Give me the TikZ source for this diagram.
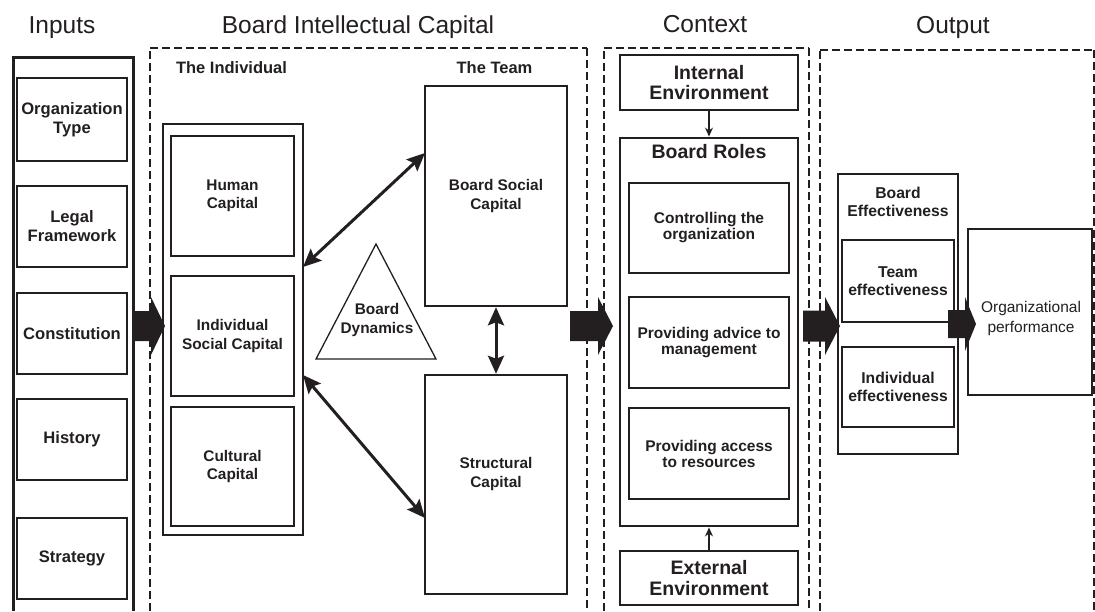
\documentclass[tikz,border=0pt]{standalone}
\usepackage{fontspec}
\setmainfont{Liberation Sans}
\usetikzlibrary{arrows.meta}
\definecolor{ink}{HTML}{231F20}

% solid block arrow: tail x, head-base x, tip x, centre y, half shaft, half head
\newcommand\blockarrow[6]{%
  \fill[ink] (#1,{#4-#5}) -- (#2,{#4-#5}) -- (#2,{#4-#6}) -- (#3,#4)
    -- (#2,{#4+#6}) -- (#2,{#4+#5}) -- (#1,{#4+#5}) -- cycle;}

\begin{document}
\begin{tikzpicture}[x=1pt,y=-1pt,
  title/.style={font=\fontsize{24.5}{28}\selectfont, text=ink, anchor=base},
  heading/.style={font=\bfseries\fontsize{16.5}{19}\selectfont, text=ink, anchor=base},
  box/.style={draw=ink, line width=1.4pt, inner sep=0pt, align=center, text=ink},
  bigbox/.style={box, line width=2.9pt},
  inlbl/.style={font=\bfseries\fontsize{16.6}{19}\selectfont},
  midlbl/.style={font=\bfseries\fontsize{15.4}{18.5}\selectfont},
  envlbl/.style={font=\bfseries\fontsize{19.5}{20.5}\selectfont},
  rolelbl/.style={font=\bfseries\fontsize{15.5}{16}\selectfont},
  outlbl/.style={font=\bfseries\fontsize{15.7}{18.5}\selectfont},
  txt/.style={align=center, text=ink, inner sep=0pt},
  dashtop/.style={draw=ink, line width=2pt, dash pattern=on 7.5pt off 4.5pt},
  dashside/.style={draw=ink, line width=1.1pt, dash pattern=on 8pt off 4pt},
  dbl/.style={draw=ink, line width=3pt,
    {Stealth[length=18pt,width=16pt,inset=3pt]}-{Stealth[length=18pt,width=16pt,inset=3pt]}},
  small/.style={draw=ink, line width=1.1pt, -{Stealth[length=9pt,width=8pt]}}
]
\useasboundingbox (0,0) rectangle (1095,611);

% ---- column titles
\node[title] (tin)  at (62,33)  {Inputs};
\node[title] (tic)  at (358,33) {Board Intellectual Capital};
\node[title] (tctx) at (705,32) {Context};
\node[title] (tout) at (953,33) {Output};

% ---- dashed section frames (open at the bottom)
\draw[dashside] (150,611) -- (150,48);
\draw[dashtop]  (150,48) -- (587,48);
\draw[dashside] (587,48) -- (587,611);
\draw[dashside] (604,611) -- (604,48);
\draw[dashtop]  (604,48) -- (809,48);
\draw[dashside] (809,48) -- (809,611);
\draw[dashside] (820,611) -- (820,50);
\draw[dashtop]  (820,50) -- (1094,50);
\draw[dashside] (1094,50) -- (1094,611);

% ---- inputs
\draw[ink, line width=3pt] (13,611) -- (13,57) -- (133,57) -- (133,611);
\node[box, inlbl, minimum width=110, minimum height=83] (orgtype)  at (72,119.5) {Organization\\Type};
\node[box, inlbl, minimum width=110, minimum height=81] (legal)    at (72,226.5) {Legal\\Framework};
\node[box, inlbl, minimum width=110, minimum height=81] (constit)  at (72,333.5) {Constitution};
\node[box, inlbl, minimum width=110, minimum height=81] (history)  at (72,439.5) {History};
\node[box, inlbl, minimum width=110, minimum height=81] (strategy) at (72,558.5) {Strategy};

% ---- the individual
\node[heading] (hind)  at (231.5,73) {The Individual};
\node[heading] (hteam) at (494.5,73) {The Team};
\node[bigbox, minimum width=140, minimum height=411] (indiv) at (233,329.5) {};
\node[box, midlbl, minimum width=123, minimum height=120] (human)    at (232.5,196)   {Human\\Capital};
\node[box, midlbl, minimum width=123, minimum height=120] (isocial)  at (232.5,336)   {Individual\\Social Capital};
\node[box, midlbl, minimum width=123, minimum height=119] (cultural) at (232.5,466.5) {Cultural\\Capital};

% ---- the team
\node[box, midlbl, line width=2.5pt, minimum width=142, minimum height=220] (bsocial) at (496,196) {Board Social\\Capital};
\node[box, line width=2.5pt, minimum width=142, minimum height=219] (structural) at (496,484.5) {};
\node[txt, midlbl] (structlbl) at (496,474) {Structural\\Capital};

% ---- board dynamics
\coordinate (tl) at (316,359);
\coordinate (tr) at (436,359);
\coordinate (tt) at (376,244);
\draw[ink, line width=1.3pt, line join=miter] (tl) -- (tr) -- (tt) -- cycle;
\node[txt, midlbl] (bdyn) at (377,320) {Board\\Dynamics};

% ---- links between individual and team capital
\coordinate (d1a) at (303,267);
\coordinate (d1b) at (425,153);
\coordinate (d2a) at (303,375);
\coordinate (d2b) at (425,518);
\draw[dbl] (d1a) -- (d1b);
\draw[dbl] (d2a) -- (d2b);
\draw[dbl] (bsocial.south) -- (structural.north);

% ---- context
\node[bigbox, envlbl, minimum width=178, minimum height=55] (intenv) at (709,82.5) {Internal\\Environment};
\node[bigbox, minimum width=178, minimum height=388] (roles) at (709,332) {};
\node[txt, envlbl] (roleslbl) at (709,151.5) {Board Roles};
\node[box, rolelbl, minimum width=160, minimum height=90] (control) at (709,228)   {Controlling the\\organization};
\node[box, rolelbl, minimum width=160, minimum height=91] (advice)  at (709,342.5) {Providing advice to\\management};
\node[box, rolelbl, minimum width=160, minimum height=91] (access)  at (709,453.5) {Providing access\\to resources};
\node[bigbox, envlbl, minimum width=178, minimum height=54] (extenv) at (709,578) {External\\Environment};
\draw[small] (intenv.south) -- (roles.north);
\draw[small] (extenv.north) -- (roles.south);

% ---- output
\node[bigbox, minimum width=120, minimum height=280] (beff) at (898,314) {};
\node[txt, outlbl] (befflbl) at (898,202) {Board\\Effectiveness};
\node[box, outlbl, minimum width=112, minimum height=82] (teff) at (898,281) {Team\\effectiveness};
\node[box, outlbl, minimum width=112, minimum height=80] (ieff) at (898,387) {Individual\\effectiveness};
\node[bigbox, minimum width=124, minimum height=166] (orgperf) at (1030,312) {};
\node[txt, font=\fontsize{15.5}{20}\selectfont] (orgperflbl) at (1031,318) {Organizational\\performance};

% ---- flow arrows between stages
\blockarrow{133}{151}{165}{326}{15}{29}
\blockarrow{570}{598}{613}{326}{15}{29}
\blockarrow{803}{825}{840}{326}{15.5}{29}
\blockarrow{948}{965}{976}{324}{14}{27}
\end{tikzpicture}
\end{document}
